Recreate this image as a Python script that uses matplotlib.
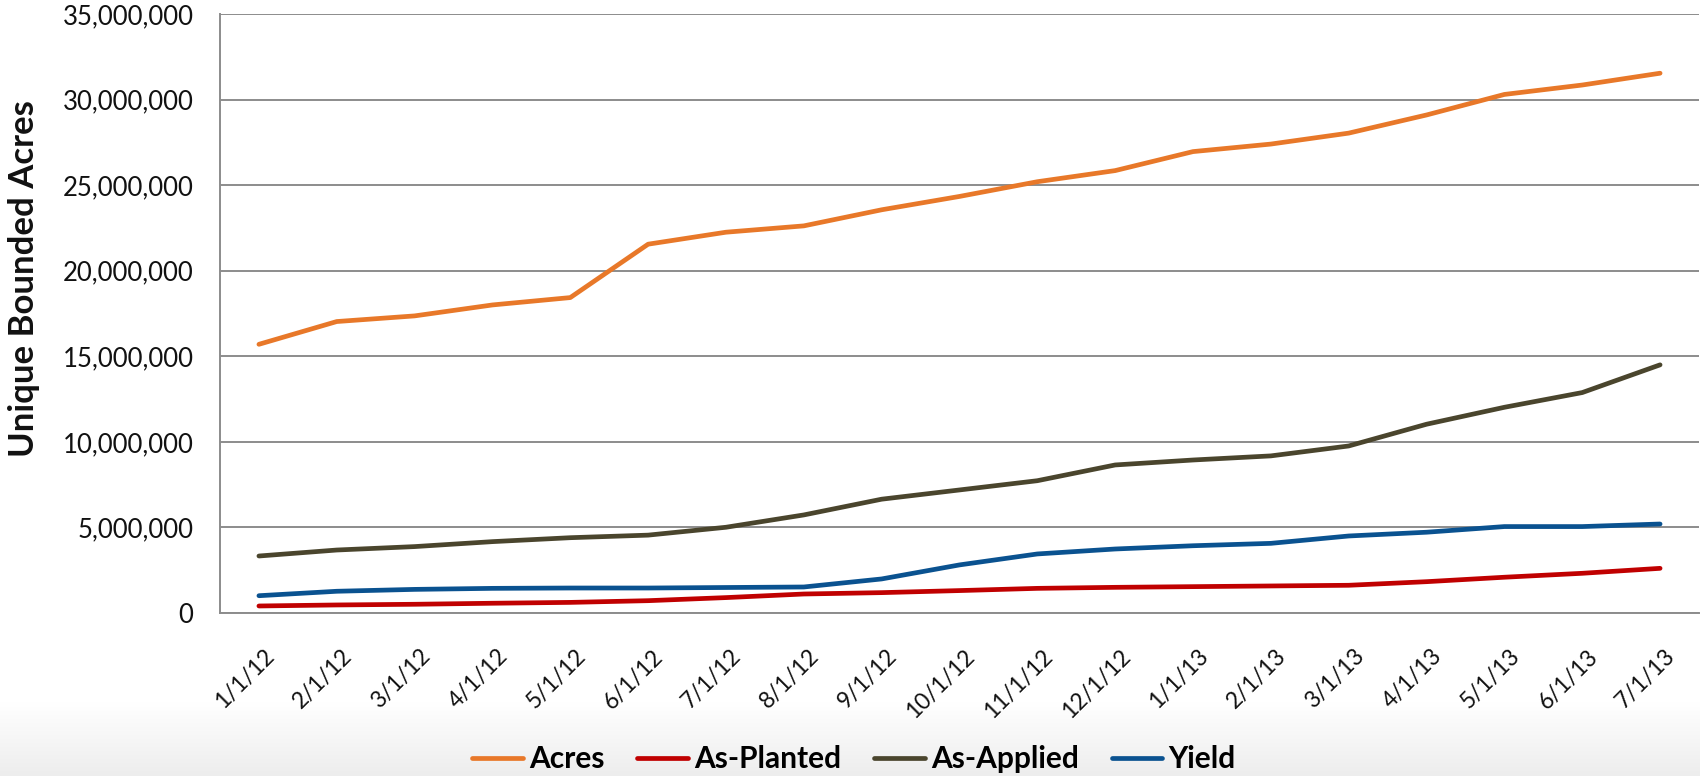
import numpy as np
import matplotlib
matplotlib.use("Agg")
import matplotlib.pyplot as plt
from matplotlib.ticker import FuncFormatter
from matplotlib.transforms import ScaledTranslation

plt.rcParams['font.family'] = ['Lato', 'DejaVu Sans']

# Data (millions of acres)
dates = ['1/1/12', '2/1/12', '3/1/12', '4/1/12', '5/1/12', '6/1/12', '7/1/12',
         '8/1/12', '9/1/12', '10/1/12', '11/1/12', '12/1/12', '1/1/13', '2/1/13',
         '3/1/13', '4/1/13', '5/1/13', '6/1/13', '7/1/13']
acres = [15.70, 17.03, 17.36, 18.00, 18.43, 21.55, 22.25, 22.62, 23.56, 24.34,
         25.20, 25.85, 26.96, 27.40, 28.04, 29.10, 30.30, 30.85, 31.54]
as_planted = [0.41, 0.47, 0.51, 0.57, 0.62, 0.72, 0.90, 1.11, 1.19, 1.31,
              1.44, 1.50, 1.54, 1.58, 1.62, 1.83, 2.09, 2.32, 2.61]
as_applied = [3.33, 3.68, 3.88, 4.17, 4.40, 4.55, 5.01, 5.73, 6.65, 7.19,
              7.73, 8.65, 8.94, 9.18, 9.76, 11.03, 12.02, 12.88, 14.50]
yield_acres = [1.01, 1.27, 1.38, 1.44, 1.46, 1.46, 1.49, 1.52, 1.99, 2.81,
               3.45, 3.74, 3.93, 4.07, 4.50, 4.72, 5.05, 5.05, 5.20]

series = [
    ('Acres', acres, '#E87829'),
    ('As-Planted', as_planted, '#C00000'),
    ('As-Applied', as_applied, '#4A452D'),
    ('Yield', yield_acres, '#0A5290'),
]

fig = plt.figure(figsize=(17, 7.76), dpi=100)

# faint gray band at the bottom behind the legend
bg = fig.add_axes([0, 0, 1, 0.095], zorder=-5)
grad = np.linspace(0, 1, 100).reshape(-1, 1)
bg.imshow(grad, aspect='auto', cmap=matplotlib.colors.LinearSegmentedColormap.from_list(
    'g', ['#ededed', '#ffffff']), extent=[0, 1, 0, 1], origin='lower')
bg.axis('off')

ax = fig.add_axes([220 / 1700, 1 - 613 / 776, 1479 / 1700, 599 / 776])
x = np.arange(len(dates))
handles = []
for name, vals, color in series:
    h, = ax.plot(x, np.array(vals) * 1e6, color=color, lw=3.4,
                 solid_capstyle='round', solid_joinstyle='round', label=name)
    handles.append(h)

ax.set_xlim(-0.5, len(dates) - 0.5)
ax.set_ylim(0, 35e6)
ax.set_yticks(np.arange(0, 35e6 + 1, 5e6))
ax.yaxis.set_major_formatter(FuncFormatter(lambda v, p: f'{int(v):,}'))
ax.grid(axis='y', color='#8c8c8c', lw=1.4)
ax.set_axisbelow(True)
for s in ['top', 'right']:
    ax.spines[s].set_visible(False)
for s in ['left', 'bottom']:
    ax.spines[s].set_color('#8c8c8c')
    ax.spines[s].set_linewidth(1.4)

ax.tick_params(axis='y', length=0, pad=19, labelsize=18.5, labelcolor='#111111')
ax.tick_params(axis='x', length=0, pad=0, labelsize=16.5, labelcolor='#111111')
ax.set_xticks(x)
ax.set_xticklabels(dates, rotation=45, ha='right', va='center', rotation_mode='anchor')
offset = ScaledTranslation(0.12, -0.40, fig.dpi_scale_trans)
for lbl in ax.get_xticklabels():
    lbl.set_transform(lbl.get_transform() + offset)

fig.text(24 / 1700, 1 - 279 / 776, 'Unique Bounded Acres', rotation=90,
         ha='center', va='center', fontsize=25, fontweight='bold', color='#111111')

fig.legend(handles=handles, loc='center', bbox_to_anchor=(854 / 1700, 1 - 759 / 776),
           ncol=4, frameon=False, prop={'size': 21.5, 'weight': 'bold'},
           handlelength=1.7, handletextpad=0.2, columnspacing=1.1)

fig.savefig('out.png', dpi=100)
